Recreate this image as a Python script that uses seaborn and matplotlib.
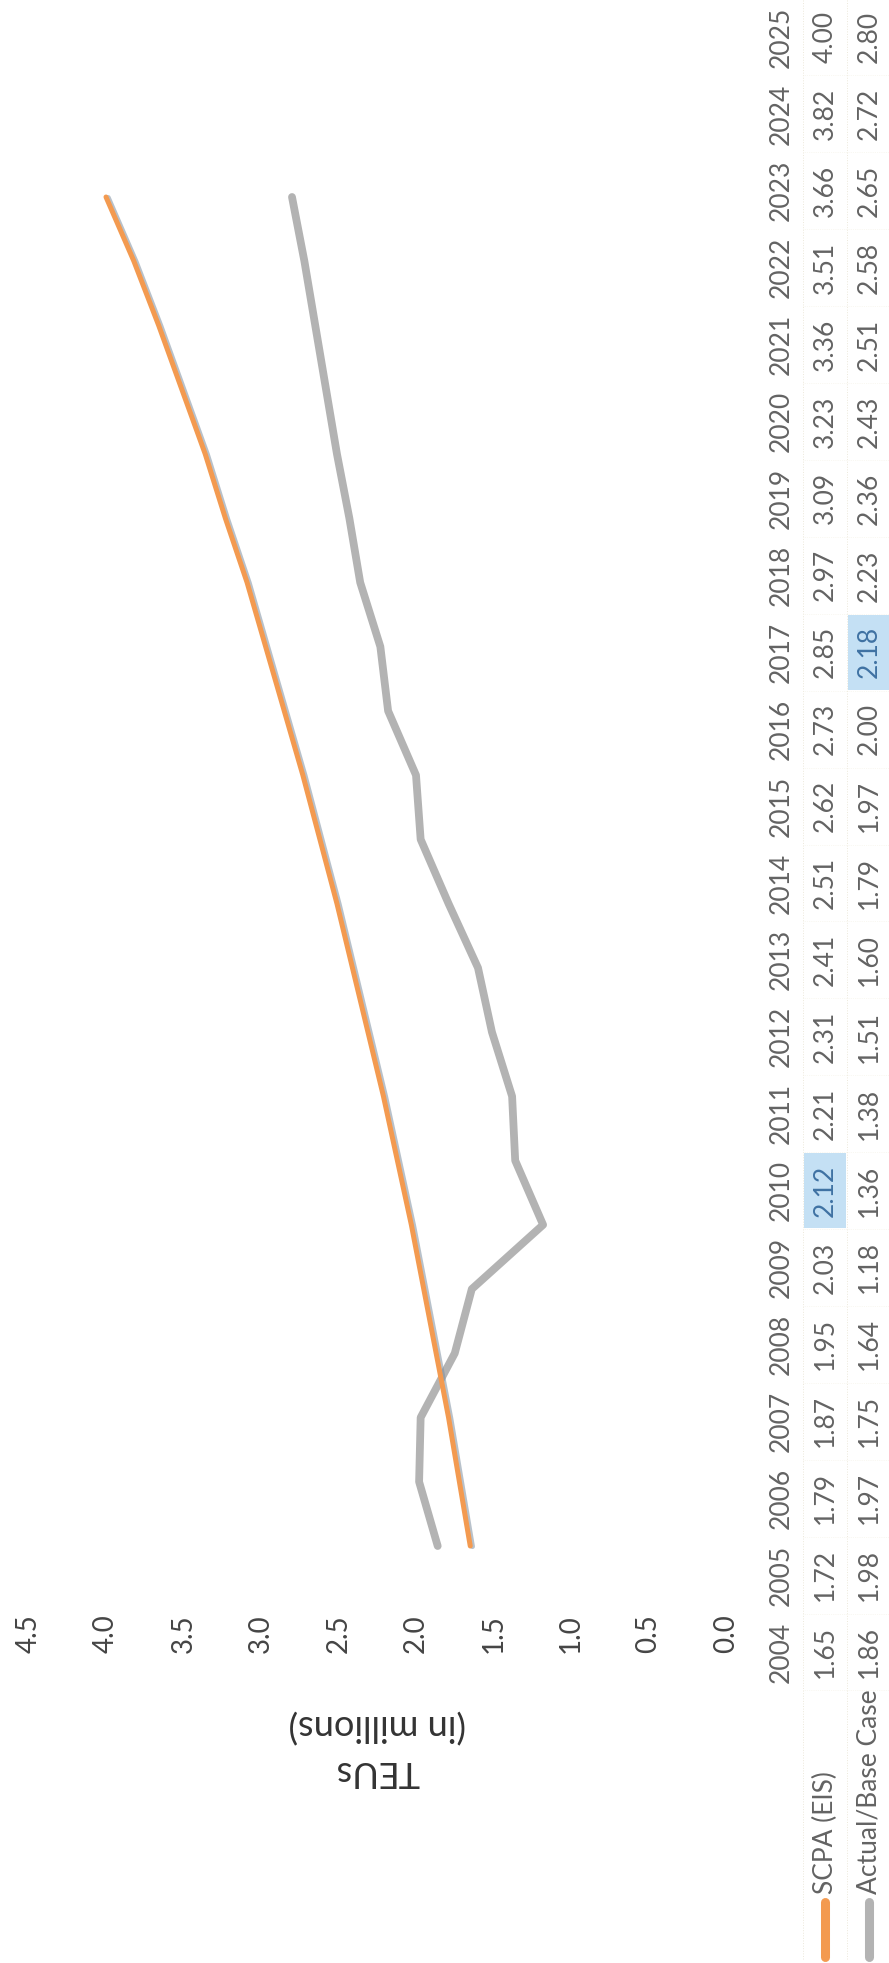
import numpy as np
import pandas as pd
import matplotlib
matplotlib.use("Agg")
import matplotlib.pyplot as plt
import matplotlib.patheffects as pe
from matplotlib.patches import Rectangle
import seaborn as sns

years = list(range(2004, 2026))
scpa_eis = [1.65, 1.72, 1.79, 1.87, 1.95, 2.03, 2.12, 2.21, 2.31, 2.41, 2.51,
            2.62, 2.73, 2.85, 2.97, 3.09, 3.23, 3.36, 3.51, 3.66, 3.82, 4.00]
actual_base = [1.86, 1.98, 1.97, 1.75, 1.64, 1.18, 1.36, 1.38, 1.51, 1.60, 1.79,
               1.97, 2.00, 2.18, 2.23, 2.36, 2.43, 2.51, 2.58, 2.65, 2.72, 2.80]
series_names = ["SCPA (EIS)", "Actual/Base Case"]
value_ticks = [0.0, 0.5, 1.0, 1.5, 2.0, 2.5, 3.0, 3.5, 4.0, 4.5]
axis_title = "TEUs\n(in millions)"
highlighted = [("SCPA (EIS)", 2010), ("Actual/Base Case", 2017)]

colors = {"SCPA (EIS)": "#F39A50", "Actual/Base Case": "#B3B3B3"}
widths = {"SCPA (EIS)": 3.6, "Actual/Base Case": 5.6}
text_grey = "#636363"

df = pd.DataFrame({
    "year": years * 2,
    "teu": scpa_eis + actual_base,
    "series": [series_names[0]] * len(years) + [series_names[1]] * len(years),
})

sns.set_theme(style="white")
plt.rcParams["font.family"] = ["Lato", "DejaVu Sans"]

W, H = 889, 1963
fig = plt.figure(figsize=(W / 100, H / 100), dpi=100)
fig.patch.set_facecolor("white")

# the whole chart is turned a quarter turn: values run right-to-left, years bottom-to-top
x_zero, x_top = 726, 28.5      # pixel x of 0.0 and 4.5
y_first, y_last = 1546, 197    # pixel y (from top) of first and last year on the line plot
ax = fig.add_axes([x_top / W, (H - y_first) / H, (x_zero - x_top) / W, (y_first - y_last) / H])
ax.set_facecolor("none")

for name in ["Actual/Base Case", "SCPA (EIS)"]:
    effects = [pe.Normal()]
    if name == "SCPA (EIS)":
        effects = [pe.SimpleLineShadow(offset=(1.6, -0.4), shadow_color="#7f8fa0", alpha=0.55), pe.Normal()]
    sns.lineplot(data=df[df["series"] == name], x="teu", y="year", orient="y",
                 estimator=None, color=colors[name], linewidth=widths[name],
                 solid_capstyle="round", solid_joinstyle="round", clip_on=False,
                 path_effects=effects, legend=False, ax=ax)

ax.set_xlim(max(value_ticks), min(value_ticks))
ax.set_ylim(min(years), max(years))
ax.set_xticks(value_ticks, labels=[f"{t:.1f}" for t in value_ticks])
ax.set_yticks([])
ax.tick_params(axis="x", length=0, pad=49, labelrotation=90, labelsize=20, colors="#454545")
ax.set_xlabel(axis_title, rotation=180, fontsize=26, color="#333333",
              labelpad=40, linespacing=1.45)
ax.set_ylabel("")
ax.grid(False)
sns.despine(ax=ax, left=True, bottom=True)

# data table on the right-hand side
col_px = [781, 827, 869]
col_step = (col_px[2] - col_px[0]) / 2
yr_top_px, yr_bot_px = 37, 1652
yr_step = (yr_bot_px - yr_top_px) / (max(years) - min(years))


def tab_y(px):
    return max(years) + (yr_top_px - px) / yr_step


tab = fig.add_axes([0, 0, 1, 1])
tab.set_facecolor("none")
tab.set_xlim(-col_px[0] / col_step, (W - col_px[0]) / col_step)
tab.set_ylim(tab_y(H), tab_y(0))
tab.axis("off")

# very faint dotted cell borders
for xb in [0.5, 1.5]:
    tab.plot([xb, xb], [tab_y(H - 4), max(years) + 0.5], ls=":", lw=0.7, color="#ece8da")
for yb in np.arange(min(years) - 0.5, max(years) + 1, 1.0):
    tab.plot([0.5, 2.5], [yb, yb], ls=":", lw=0.5, color="#f4f1e6")

series_values = {"SCPA (EIS)": scpa_eis, "Actual/Base Case": actual_base}
for name, yr in highlighted:
    col = 1 + series_names.index(name)
    tab.add_patch(Rectangle((col - 0.47, yr - 0.49), 0.94, 0.98, facecolor="#C4E0F4",
                            edgecolor="none", zorder=1))

for i, yr in enumerate(years):
    tab.text(0, yr, str(yr), rotation=90, ha="center", va="center", fontsize=19,
             color=text_grey, zorder=3)
    for j, name in enumerate(series_names):
        hl = (name, yr) in highlighted
        tab.text(1 + j, yr, f"{series_values[name][i]:.2f}", rotation=90, ha="center",
                 va="center", fontsize=19, color="#3f72a3" if hl else text_grey, zorder=3)

# row headers with their legend keys
for j, name in enumerate(series_names):
    col = 1 + j
    tab.text(col, tab_y(1894), name, rotation=90, ha="center", va="bottom",
             fontsize=19, color=text_grey)
    tab.plot([col, col], [tab_y(1957), tab_y(1902)], color=colors[name], lw=6.5,
             solid_capstyle="round")

fig.savefig("out.png", dpi=100, facecolor="white")
